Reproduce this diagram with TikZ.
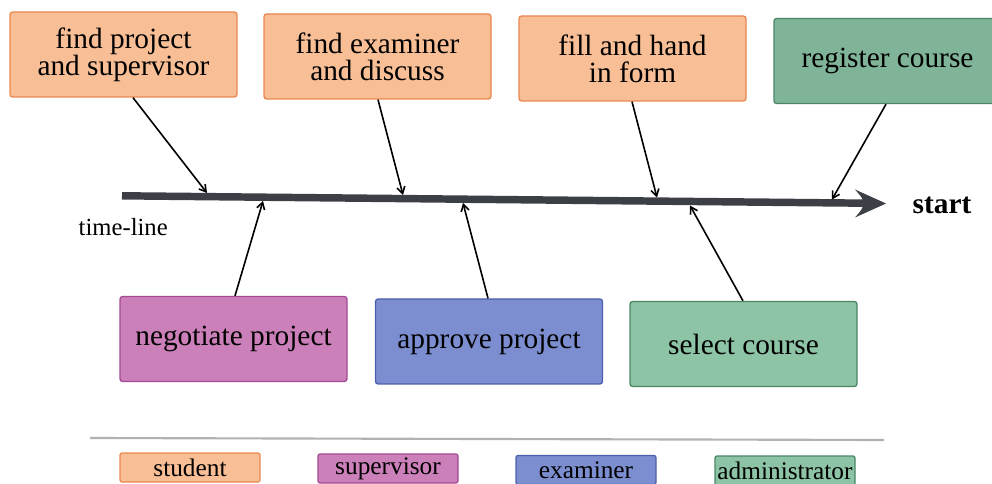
\documentclass[tikz,border=0pt]{standalone}
\usepackage{fontspec}
\setmainfont{Liberation Serif}
\usetikzlibrary{arrows.meta,calc}
\definecolor{stuF}{HTML}{F8BE96}
\definecolor{stuD}{HTML}{EA8850}
\definecolor{supF}{HTML}{CC80BA}
\definecolor{supD}{HTML}{A34A92}
\definecolor{exaF}{HTML}{7C8ED0}
\definecolor{exaD}{HTML}{4D5EAC}
\definecolor{admF}{HTML}{8EC4A6}
\definecolor{admG}{HTML}{80B498}
\definecolor{admD}{HTML}{4A8664}
\definecolor{lineC}{HTML}{3C3F46}
\tikzset{
  task/.style={draw, line width=1pt, rounded corners=2pt, minimum width=227*0.75pt, minimum height=85*0.75pt, align=center, font=\fontsize{22}{20.5}\selectfont, inner sep=2pt},
  legbox/.style={draw, line width=0.9pt, rounded corners=1.5pt, minimum width=140*0.75pt, minimum height=29*0.75pt, font=\fontsize{19}{20}\selectfont, inner sep=0pt},
  stu/.style={fill=stuF, draw=stuD},
  sup/.style={fill=supF, draw=supD},
  exa/.style={fill=exaF, draw=exaD},
  adm/.style={fill=admF, draw=admD},
  admg/.style={fill=admG, draw=admD},
  con/.style={line width=1.2pt, -{Straight Barb[length=5pt,width=6pt]}},
}
\begin{document}
\begin{tikzpicture}[x=0.75pt,y=-0.75pt]
\useasboundingbox (0,0) rectangle (992,484);
\begin{scope}
\clip (0,0) rectangle (992,484);
% timeline
\coordinate (tl0) at (122,195.8);
\coordinate (tlm) at (866,203.2);
\coordinate (tl1) at (886,203.5);
\draw[lineC, line width=5.6pt] (tl0) -- (tlm);
\fill[lineC] (tl1) -- ($(tl1)+(-31,-14)$) .. controls ($(tl1)+(-24,-6)$) .. ($(tl1)+(-22,-0.3)$)
  .. controls ($(tl1)+(-24,6)$) .. ($(tl1)+(-31,14)$) -- cycle;
\node[anchor=west, font=\fontsize{22}{24}\selectfont\bfseries] (start) at (908,205) {start};
\node[anchor=west, font=\fontsize{18.5}{20}\selectfont] (tline) at (74,227) {time-line};

% top boxes
\node[task, stu] (fp) at (123.5,54.5) {find project\\and supervisor};
\node[task, stu] (fe) at (377.5,56.5) {find examiner\\and discuss};
\node[task, stu] (ff) at (632.5,58.5) {fill and hand\\in form};
\node[task, admg] (rc) at (887.5,61) {register course};
% bottom boxes
\node[task, sup] (np) at (233.5,339) {negotiate project};
\node[task, exa] (ap) at (489,341.5) {approve project};
\node[task, adm] (sc) at (743.5,344) {select course};

% contact points on timeline
\coordinate (p1) at (207,193);
\coordinate (p2) at (403,195);
\coordinate (p3) at (657,197.5);
\coordinate (p4) at (832,199.5);
\coordinate (q1) at (263,201);
\coordinate (q2) at (463,203);
\coordinate (q3) at (690,205.5);

\draw[con] ($(fp.south)+(9.5,0)$) -- (p1);
\draw[con] ($(fe.south)+(0.5,0)$) -- (p2);
\draw[con] ($(ff.south)+(-0.5,0)$) -- (p3);
\draw[con] ($(rc.south)+(-1.5,0)$) -- (p4);
\draw[con] ($(np.north)+(1.5,0)$) -- (q1);
\draw[con] ($(ap.north)+(-1,0)$) -- (q2);
\draw[con] ($(sc.north)+(-0.5,0)$) -- (q3);

% separator
\coordinate (s0) at (90,438);
\coordinate (s1) at (884,440);
\draw[black!30, line width=1.6pt] (s0) -- (s1);

% legend
\node[legbox, stu] (lstu) at (190,467.5) {student};
\node[legbox, sup] (lsup) at (388,468.5) {supervisor};
\node[legbox, exa] (lexa) at (586,470) {examiner};
\node[legbox, adm] (ladm) at (785,470.5) {administrator};
\end{scope}
\end{tikzpicture}
\end{document}
